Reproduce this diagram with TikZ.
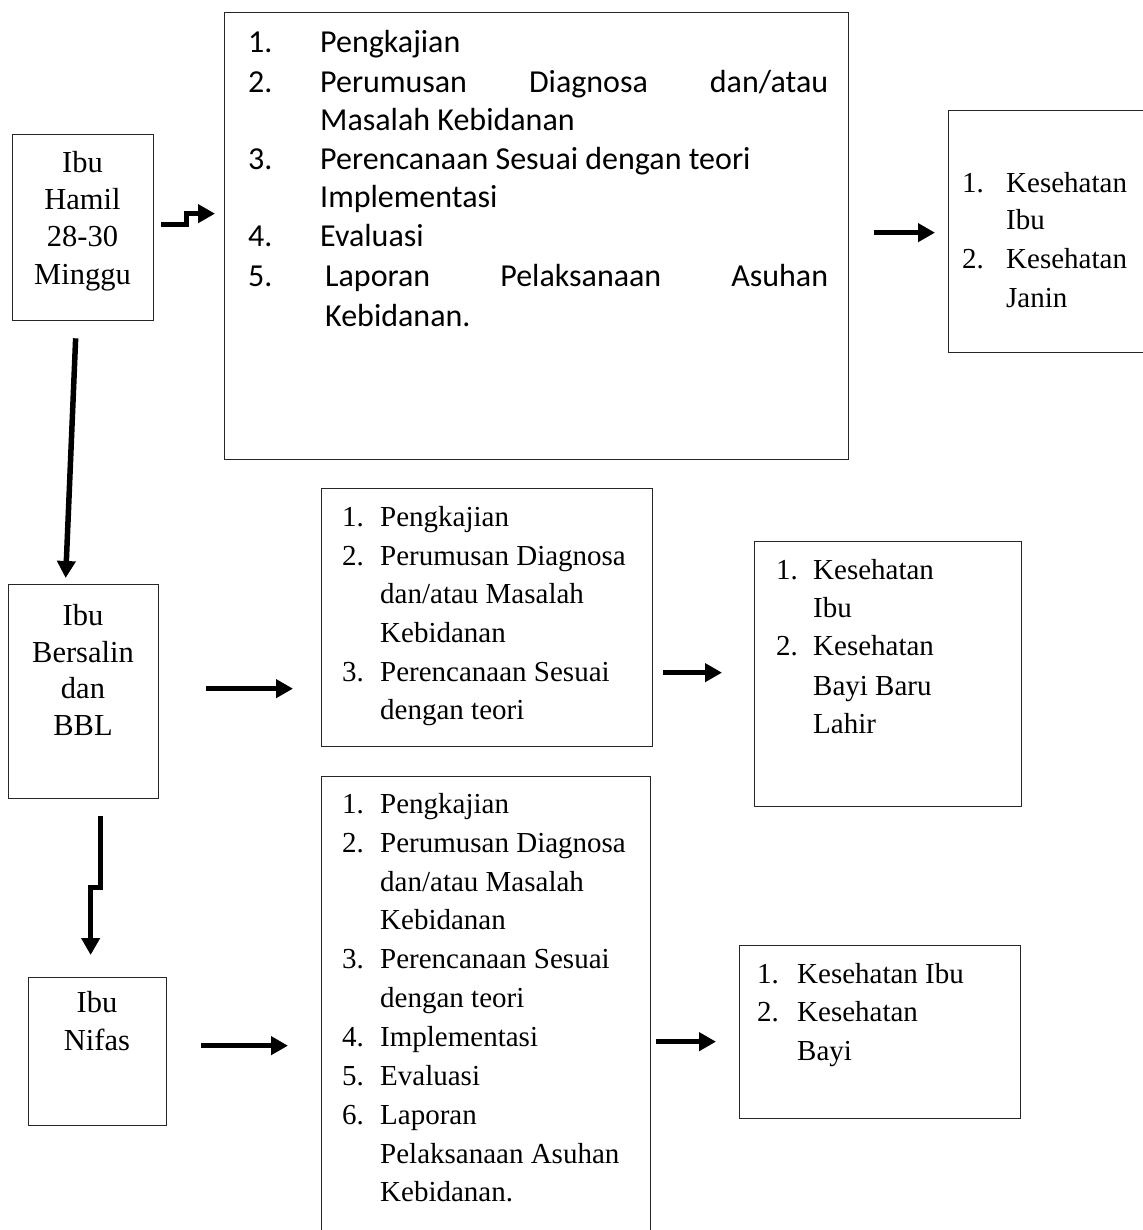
\documentclass[tikz,border=0pt]{standalone}
\usepackage{fontspec}
\setmainfont{Liberation Serif}
\newfontfamily\calibrifont{Carlito}
\usetikzlibrary{arrows.meta,calc}
\begin{document}
\begin{tikzpicture}[x=1pt,y=-1pt,
  box/.style={draw=black!85,line width=1.3pt,anchor=north west,inner sep=0pt},
  txt/.style={inner sep=0pt,anchor=base west,font=\fontsize{29pt}{38pt}\selectfont},
  ctxt/.style={inner sep=0pt,anchor=base,font=\fontsize{30.5pt}{38pt}\selectfont},
  ctxtc/.style={inner sep=0pt,anchor=base west,font=\calibrifont\fontsize{32pt}{39pt}\selectfont},
  arr/.style={line width=5.5pt,-{Triangle[length=17pt,width=18pt]}}]
\useasboundingbox (0,0) rectangle (1142,1230);

% boxes
\node[box,minimum width=141pt,minimum height=186pt] (hamil) at (12,134) {};
\node[box,minimum width=624pt,minimum height=447pt] (asuhanA) at (224,12) {};
\node[box,minimum width=210pt,minimum height=242pt] (hasilA) at (948,110) {};
\node[box,minimum width=150pt,minimum height=214pt] (salin) at (8,584) {};
\node[box,minimum width=331pt,minimum height=258pt] (asuhanB) at (321,488) {};
\node[box,minimum width=267pt,minimum height=265pt] (hasilB) at (754,541) {};
\node[box,minimum width=138pt,minimum height=148pt] (nifas) at (28,977) {};
\node[box,minimum width=329pt,minimum height=475pt] (asuhanC) at (321,776) {};
\node[box,minimum width=281pt,minimum height=173pt] (hasilC) at (739,945) {};

% Ibu Hamil
\node[ctxt] (h1) at (82.5,173) {Ibu};
\node[ctxt] (h2) at (82.5,210) {Hamil};
\node[ctxt] (h3) at (82.5,247) {28-30};
\node[ctxt] (h4) at (82.5,285) {Minggu};

% first care steps
\node[ctxtc] (a1n) at (248,53) {1.};
\node[ctxtc] (a1) at (320,53) {Pengkajian};
\node[ctxtc] (a2n) at (248,93) {2.};
\node[ctxtc] (a2) at (320,93) {\makebox[508pt][s]{Perumusan\hfill Diagnosa\hfill dan/atau}};
\node[ctxtc] (a2b) at (320,131) {Masalah Kebidanan};
\node[ctxtc] (a3n) at (248,170) {3.};
\node[ctxtc] (a3) at (320,170) {Perencanaan Sesuai dengan teori};
\node[ctxtc] (a3b) at (320,208) {Implementasi};
\node[ctxtc] (a4n) at (248,247) {4.};
\node[ctxtc] (a4) at (320,247) {Evaluasi};
\node[ctxtc] (a5n) at (248,287) {5.};
\node[ctxtc] (a5) at (325,287) {\makebox[503pt][s]{Laporan\hfill Pelaksanaan\hfill Asuhan}};
\node[ctxtc] (a5b) at (325,326) {Kebidanan.};

% first outcomes
\node[txt] (r1n) at (962,193) {1.};
\node[txt] (r1) at (1006,193) {Kesehatan};
\node[txt] (r1b) at (1006,230) {Ibu};
\node[txt] (r2n) at (962,269) {2.};
\node[txt] (r2) at (1006,269) {Kesehatan};
\node[txt] (r2b) at (1006,307) {Janin};

% Ibu Bersalin dan BBL
\node[ctxt] (s1) at (83,625) {Ibu};
\node[ctxt] (s2) at (83,662) {Bersalin};
\node[ctxt] (s3) at (83,698) {dan};
\node[ctxt] (s4) at (83,735) {BBL};

% second care steps
\node[txt] (b1n) at (342,526) {1.};
\node[txt] (b1) at (380,526) {Pengkajian};
\node[txt] (b2n) at (342,565) {2.};
\node[txt] (b2) at (380,565) {Perumusan Diagnosa};
\node[txt] (b2b) at (380,603) {dan/atau Masalah};
\node[txt] (b2c) at (380,642) {Kebidanan};
\node[txt] (b3n) at (342,681) {3.};
\node[txt] (b3) at (380,681) {Perencanaan Sesuai};
\node[txt] (b3b) at (380,719) {dengan teori};

% second outcomes
\node[txt] (q1n) at (776,579) {1.};
\node[txt] (q1) at (813,579) {Kesehatan};
\node[txt] (q1b) at (813,617) {Ibu};
\node[txt] (q2n) at (776,655) {2.};
\node[txt] (q2) at (813,655) {Kesehatan};
\node[txt] (q2b) at (813,695) {Bayi Baru};
\node[txt] (q2c) at (813,733) {Lahir};

% Ibu Nifas
\node[ctxt] (n1) at (97,1012) {Ibu};
\node[ctxt] (n2) at (97,1050) {Nifas};

% third care steps
\node[txt] (c1n) at (342,813) {1.};
\node[txt] (c1) at (380,813) {Pengkajian};
\node[txt] (c2n) at (342,852) {2.};
\node[txt] (c2) at (380,852) {Perumusan Diagnosa};
\node[txt] (c2b) at (380,891) {dan/atau Masalah};
\node[txt] (c2c) at (380,929) {Kebidanan};
\node[txt] (c3n) at (342,968) {3.};
\node[txt] (c3) at (380,968) {Perencanaan Sesuai};
\node[txt] (c3b) at (380,1007) {dengan teori};
\node[txt] (c4n) at (342,1046) {4.};
\node[txt] (c4) at (380,1046) {Implementasi};
\node[txt] (c5n) at (342,1085) {5.};
\node[txt] (c5) at (380,1085) {Evaluasi};
\node[txt] (c6n) at (342,1124) {6.};
\node[txt] (c6) at (380,1124) {Laporan};
\node[txt] (c6b) at (380,1163) {Pelaksanaan Asuhan};
\node[txt] (c6c) at (380,1201) {Kebidanan.};

% third outcomes
\node[txt] (p1n) at (757,983) {1.};
\node[txt] (p1) at (797,983) {Kesehatan Ibu};
\node[txt] (p2n) at (757,1021) {2.};
\node[txt] (p2) at (797,1021) {Kesehatan};
\node[txt] (p2b) at (797,1060) {Bayi};

% connectors (offsets in picture units, y grows downwards)
\draw[arr] ([shift={(7,-3)}]hamil.east) -- ++(25,0) |- ([shift={(-9,-22.5)}]asuhanA.west);
\draw[arr] ([shift={(25,-3.5)}]asuhanA.east) -- ([shift={(-13,1)}]hasilA.west);
\draw[arr] ([shift={(-7.5,17)}]hamil.south) -- ([shift={(-18,-6)}]salin.north);
\draw[arr] ([shift={(17,17)}]salin.south) -- ++(0,71) -| ([shift={(-7,-22)}]nifas.north);
\draw[arr] ([shift={(47,-3)}]salin.east) -- ([shift={(-28,71)}]asuhanB.west);
\draw[arr] ([shift={(10,55)}]asuhanB.east) -- ([shift={(-32,-1.5)}]hasilB.west);
\draw[arr] ([shift={(34,-6)}]nifas.east) -- ([shift={(-33,31.5)}]asuhanC.west);
\draw[arr] ([shift={(5,27.5)}]asuhanC.east) -- ([shift={(-23,9.5)}]hasilC.west);
\end{tikzpicture}
\end{document}
